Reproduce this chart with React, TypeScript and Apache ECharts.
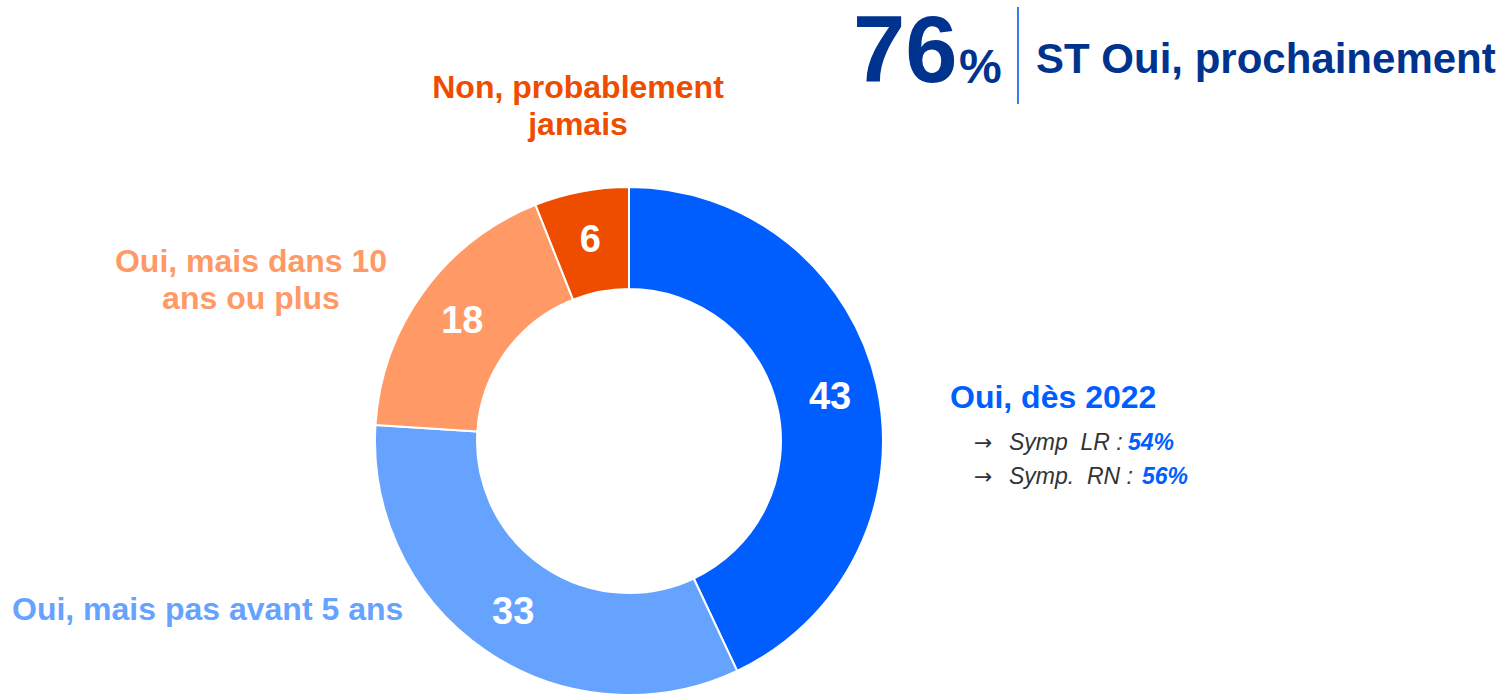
import React, { useEffect, useRef } from "react";
import * as echarts from "echarts";

const categories = [
  "Oui, dès 2022",
  "Oui, mais pas avant 5 ans",
  "Oui, mais dans 10\nans ou plus",
  "Non, probablement\njamais",
];
const values = [43, 33, 18, 6];
const colors = ["#005EFF", "#66A3FF", "#FF9966", "#EE4D00"];
const headlineValue = "76";
const headlineText = "ST Oui, prochainement";
const subLabels = ["Symp  LR :", "Symp.  RN :"];
const subValues = ["54%", "56%"];

const FONT = "Liberation Sans, Arial, Helvetica, sans-serif";
const NAVY = "#00338D";

// label layout (positions only)
const nameLayout = [
  { x: 950, y: 397, align: "left" },
  { x: 12, y: 609, align: "left" },
  { x: 251, y: 279, align: "center" },
  { x: 578, y: 105, align: "center" },
];
const subValueX = [1128, 1142];

export default function App() {
  const ref = useRef<HTMLDivElement>(null);
  useEffect(() => {
    if (!ref.current) return;
    const chart = echarts.init(ref.current, undefined, { renderer: "svg" });
    const graphics: any[] = [];
    categories.forEach((c, i) => {
      const l = nameLayout[i];
      graphics.push({
        type: "text",
        x: l.x,
        y: l.y,
        style: {
          text: c,
          fill: colors[i],
          font: `bold 32px ${FONT}`,
          align: l.align,
          verticalAlign: "middle",
          lineHeight: 37,
        },
      });
    });
    subLabels.forEach((s, i) => {
      const y = 442 + i * 34;
      graphics.push({
        type: "text",
        x: 974,
        y,
        style: {
          text: "→",
          fill: "#333333",
          font: `22px DejaVu Sans`,
          verticalAlign: "middle",
        },
      });
      graphics.push({
        type: "text",
        x: 1009,
        y,
        style: {
          text: s,
          fill: "#333333",
          font: `italic 23px ${FONT}`,
          verticalAlign: "middle",
        },
      });
      graphics.push({
        type: "text",
        x: subValueX[i],
        y,
        style: {
          text: subValues[i],
          fill: colors[0],
          font: `italic bold 23px ${FONT}`,
          verticalAlign: "middle",
        },
      });
    });
    graphics.push({
      type: "text",
      x: 853,
      y: 49,
      style: {
        text: headlineValue,
        fill: NAVY,
        font: `bold 94px ${FONT}`,
        align: "left",
        verticalAlign: "middle",
        lineHeight: 76,
      },
    });
    graphics.push({
      type: "text",
      x: 959,
      y: 90,
      style: {
        text: "%",
        fill: NAVY,
        font: `bold 48px ${FONT}`,
        align: "left",
        verticalAlign: "bottom",
      },
    });
    graphics.push({
      type: "line",
      shape: { x1: 1018, y1: 7, x2: 1018, y2: 104 },
      style: { stroke: "#3D7CF0", lineWidth: 2 },
    });
    graphics.push({
      type: "text",
      x: 1036,
      y: 58,
      style: {
        text: headlineText,
        fill: NAVY,
        font: `bold 42px ${FONT}`,
        align: "left",
        verticalAlign: "middle",
      },
    });

    chart.setOption({
      animation: false,
      backgroundColor: "#ffffff",
      graphic: graphics,
      series: [
        {
          type: "pie",
          center: [629, 441],
          radius: [152, 254],
          startAngle: 90,
          clockwise: true,
          avoidLabelOverlap: false,
          itemStyle: { borderColor: "#ffffff", borderWidth: 2 },
          label: {
            show: true,
            position: "inside",
            formatter: "{c}",
            color: "#ffffff",
            fontSize: 38,
            fontWeight: "bold",
            fontFamily: FONT,
            padding: [6, 0, 0, 0],
          },
          labelLine: { show: false },
          emphasis: { disabled: true },
          data: categories.map((c, i) => ({
            name: c,
            value: values[i],
            itemStyle: { color: colors[i] },
          })),
        },
      ],
    });
    return () => chart.dispose();
  }, []);
  return (
    <div
      ref={ref}
      style={{ position: "fixed", left: 0, top: 0, width: 1507, height: 695 }}
    />
  );
}
